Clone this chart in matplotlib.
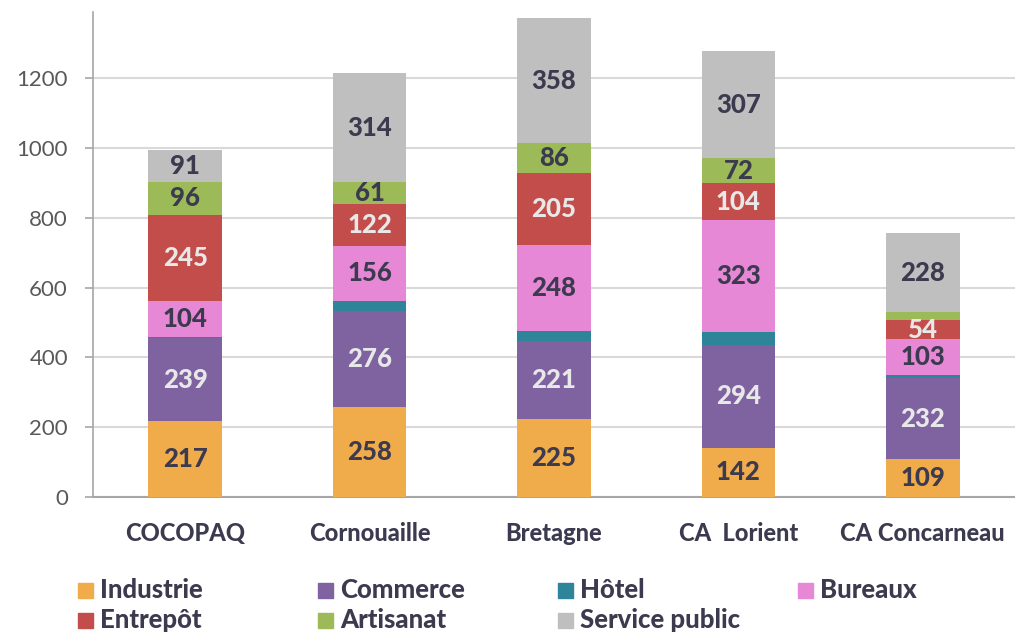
import matplotlib.pyplot as plt
import numpy as np
from matplotlib.patches import Rectangle

plt.rcParams['font.family'] = ['Lato', 'DejaVu Sans']

categories = ['COCOPAQ', 'Cornouaille', 'Bretagne', 'CA  Lorient', 'CA Concarneau']
series = ['Industrie', 'Commerce', 'Hôtel', 'Bureaux', 'Entrepôt', 'Artisanat', 'Service public']
industrie = [217, 258, 225, 142, 109]
commerce = [239, 276, 221, 294, 232]
hotel = [3, 29, 29, 36, 9]
bureaux = [104, 156, 248, 323, 103]
entrepot = [245, 122, 205, 104, 54]
artisanat = [96, 61, 86, 72, 22]
service_public = [91, 314, 358, 307, 228]
values = [industrie, commerce, hotel, bureaux, entrepot, artisanat, service_public]

colors = ['#f0ac4b', '#7f62a0', '#2e8499', '#e788d6', '#c34d4b', '#9cbb58', '#bfbfbf']
# which series get their numbers written, and in what colour
label_colors = ['#3c3a4e', '#e8e8e8', None, '#3c3a4e', '#e8e8e8', '#3c3a4e', '#3c3a4e']

fig = plt.figure(figsize=(10.15, 6.34), dpi=100)
ax = fig.add_axes([0.0916, 0.216, 0.9084, 0.765])

x = np.arange(len(categories))
bottom = np.zeros(len(categories))
for name, vals, col, lcol in zip(series, values, colors, label_colors):
    vals = np.array(vals, dtype=float)
    ax.bar(x, vals, 0.4, bottom=bottom, color=col, zorder=3)
    if lcol is not None:
        for xi, b, v in zip(x, bottom, vals):
            if v < 40:  # too thin, the original leaves these blank
                continue
            ax.text(xi, b + v / 2, f'{int(v)}', ha='center', va='center',
                    fontsize=18.5, fontweight='black', color=lcol, zorder=4)
    bottom += vals

ax.set_xlim(-0.5, 4.5)
ax.set_ylim(0, 1390)
ax.set_yticks(range(0, 1201, 200))
ax.set_xticks(x)
ax.set_xticklabels(categories, fontsize=17, fontweight='black', color='#3c3a4e')
ax.tick_params(axis='x', length=0, pad=18)
ax.tick_params(axis='y', length=6, width=1.2, color='#a6a6a6', labelsize=16,
               labelcolor='#595959', pad=12)
ax.grid(axis='y', color='#d9d9d9', linewidth=1.5, zorder=0)
for s in ['top', 'right']:
    ax.spines[s].set_visible(False)
ax.spines['left'].set_color('#a6a6a6')
ax.spines['left'].set_linewidth(1.2)
ax.spines['bottom'].set_color('#a6a6a6')
ax.spines['bottom'].set_linewidth(1.5)

# legend laid out as in the original: two rows, fixed column starts
col_x = [78, 318, 558, 798]
row_y = [590, 620]
W, H = 1015, 634
for k in range(len(series)):
    r, c = divmod(k, 4)
    px, py = col_x[c], row_y[r]
    fig.patches.append(Rectangle((px / W, (H - py - 7.5) / H), 15 / W, 15 / H,
                                 transform=fig.transFigure, color=colors[k]))
    fig.text((px + 22) / W, (H - py) / H, series[k], ha='left', va='center',
             fontsize=18.5, fontweight='black', color='#3c3a4e')

fig.savefig('out.png', dpi=100)
